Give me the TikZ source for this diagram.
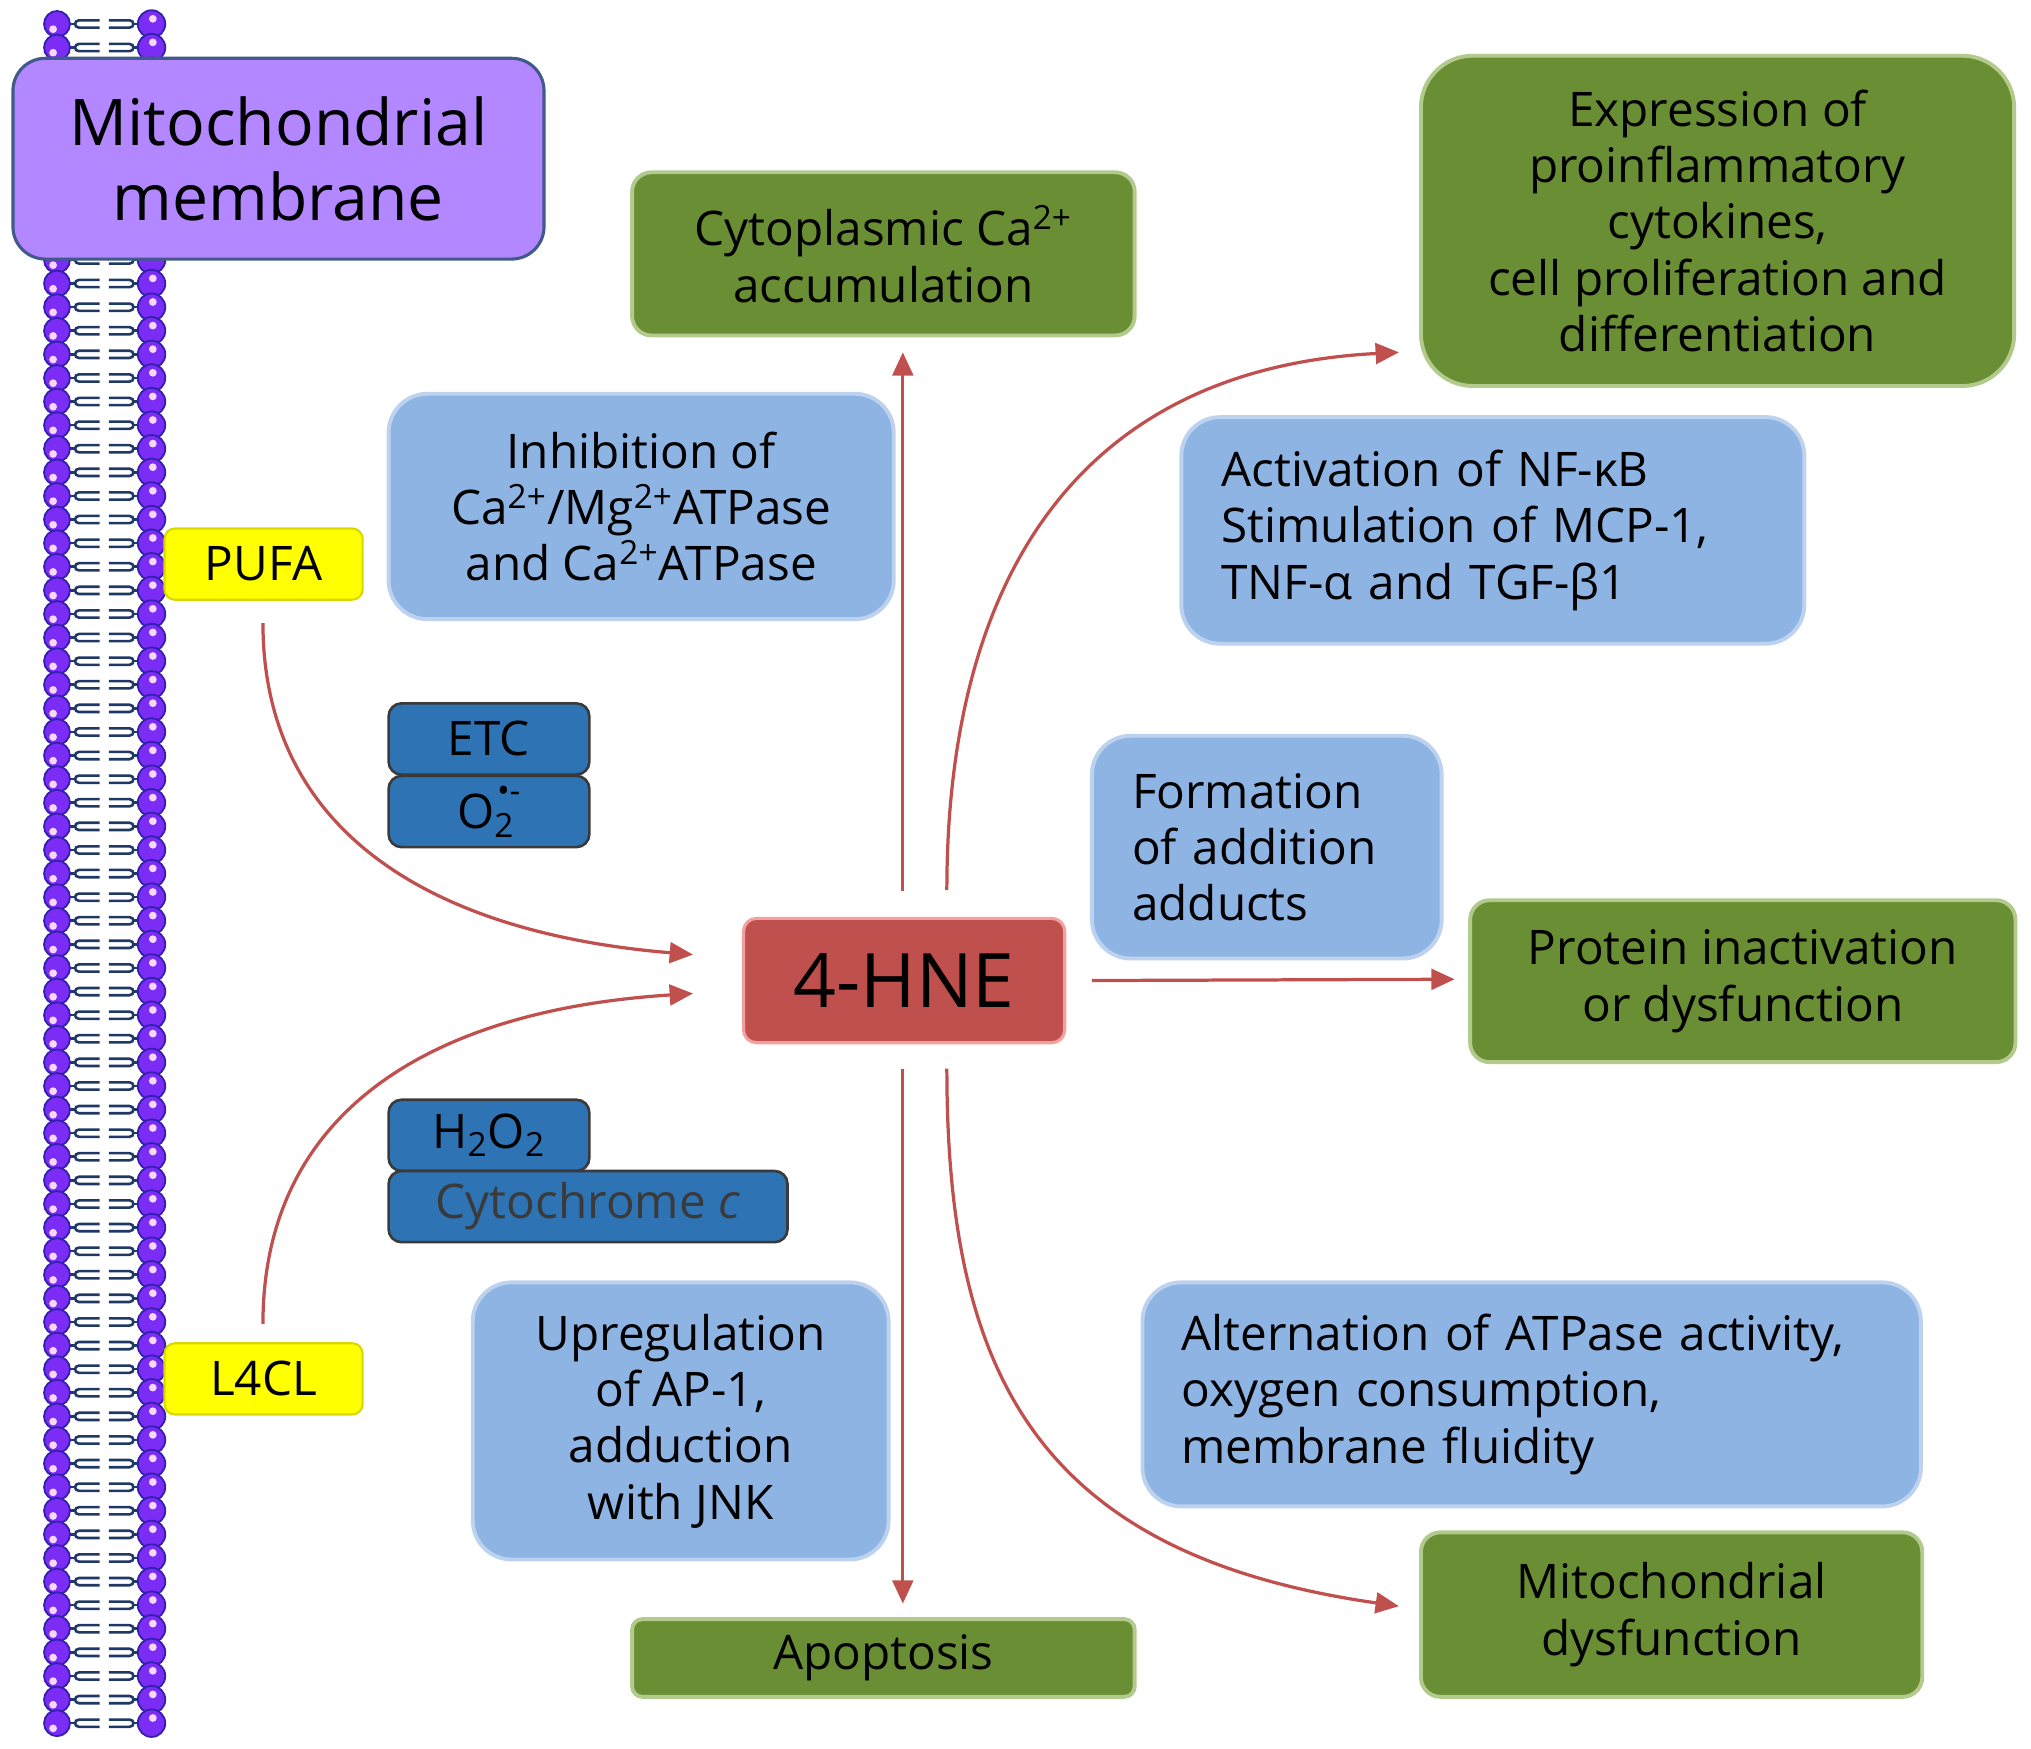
\documentclass[tikz,border=0pt]{standalone}
\usepackage{fontspec}
\setmainfont{Open Sans}
\usetikzlibrary{arrows.meta}
\definecolor{mitofill}{HTML}{B387FF}
\definecolor{mitoedge}{HTML}{41598B}
\definecolor{yel}{HTML}{FFFF00}
\definecolor{yeledge}{HTML}{D8D800}
\definecolor{dblue}{HTML}{2E74B5}
\definecolor{dblueedge}{HTML}{3A3A3A}
\definecolor{lblue}{HTML}{8EB4E3}
\definecolor{lblueedge}{HTML}{BCD2EE}
\definecolor{gr}{HTML}{6A8E34}
\definecolor{gredge}{HTML}{B2CB8C}
\definecolor{hnered}{HTML}{C0504D}
\definecolor{hneedge}{HTML}{F2A0A0}
\definecolor{arrred}{HTML}{C0504D}
\definecolor{lipid}{HTML}{7B2CF5}
\definecolor{lipidedge}{HTML}{3420B0}
\definecolor{lipidhi}{HTML}{F4D8FF}
\definecolor{tailc}{HTML}{203864}
\definecolor{cytgray}{HTML}{3A3A3A}
\tikzset{
  body/.style={font=\fontsize{18.4}{21.75}\selectfont, text=black},
  lbox/.style={body, fill=lblue, draw=lblueedge, line width=1.5pt, rounded corners=15pt, align=center, inner sep=0pt},
  gbox/.style={body, fill=gr, draw=gredge, line width=1.5pt, rounded corners=7.5pt, align=center, inner sep=0pt},
  dbox/.style={body, fill=dblue, draw=dblueedge, line width=1pt, rounded corners=5pt, inner sep=0pt, minimum width=77.5pt, minimum height=27.5pt},
  ybox/.style={body, fill=yel, draw=yeledge, line width=0.8pt, rounded corners=4pt, inner sep=0pt, minimum width=76.5pt, minimum height=27.5pt},
  hnebox/.style={fill=hnered, draw=hneedge, line width=1.2pt, rounded corners=5pt, inner sep=0pt, minimum width=124pt, minimum height=48pt, font=\fontsize{29}{32}\selectfont},
  mitobox/.style={fill=mitofill, draw=mitoedge, line width=1.2pt, rounded corners=12.5pt, inner sep=0pt, minimum width=205pt, minimum height=77.5pt, align=center, font=\fontsize{24.8}{29}\selectfont},
  arr/.style={draw=arrred, line width=1.25pt, -{Triangle[length=9pt,width=8pt]}},
  tail/.style={draw=tailc, line width=1pt},
  head/.style={fill=lipid, draw=lipidedge, line width=0.7pt},
  hilite/.style={fill=lipidhi},
}
\begin{document}
\begin{tikzpicture}[x=0.5pt,y=-0.5pt]
\useasboundingbox (0,0) rectangle (1568,1350);
% membrane
\foreach \i in {0,...,72}{
  \pgfmathsetmacro\yy{18.5+\i*18.22}
  \draw[tail] (53,\yy) -- (59,\yy);
  \draw[tail] (77,\yy-2.8) -- (61,\yy-2.8) .. controls (57,\yy-2.8) and (57,\yy+2.8) .. (61,\yy+2.8) -- (77,\yy+2.8);
  \draw[tail] (84,\yy-2.8) -- (100,\yy-2.8) .. controls (104,\yy-2.8) and (104,\yy+2.8) .. (100,\yy+2.8) -- (84,\yy+2.8);
  \draw[tail] (102,\yy) -- (108,\yy);
}
\foreach \i in {0,...,72}{
  \pgfmathsetmacro\yy{18.5+\i*18.22}
  \filldraw[head] (44,\yy) circle[radius=5pt];
  \filldraw[head] (117,\yy) circle[radius=5.3pt];
  \fill[hilite] (41,\yy+4) circle[radius=1.5pt];
  \fill[hilite] (118,\yy-4) circle[radius=1.5pt];
}
\node[mitobox] (mito) at (215,122.5) {Mitochondrial\\membrane};
% small boxes
\node[ybox] (pufa) at (203.5,435.5) {PUFA};
\node[ybox] (l4cl) at (203.5,1064.5) {L4CL};
\node[dbox] (etc) at (377.5,570.5) {ETC};
\node[dbox] (o2) at (377.5,626.5) {O\rlap{\textsubscript{2}}\kern1pt\raisebox{0.55em}{\fontsize{13}{13}\selectfont •-}};
\node[dbox] (h2o2) at (377.5,876.5) {H\textsubscript{2}O\textsubscript{2}};
\node[dbox, minimum width=154pt, text=cytgray] (cytc) at (454,931.5) {Cytochrome \textit{c}};
% main boxes
\node[lbox, minimum width=195pt, minimum height=87pt] (inhib) at (495,391) {Inhibition of\\Ca\textsuperscript{2+}/Mg\textsuperscript{2+}ATPase\\and Ca\textsuperscript{2+}ATPase};
\node[gbox, minimum width=194pt, minimum height=63pt] (cyto) at (682,196) {Cytoplasmic Ca\textsuperscript{2+}\\accumulation};
\node[hnebox] (hne) at (698,757) {4-HNE};
\node[gbox, rounded corners=20pt, minimum width=229pt, minimum height=127.5pt] (expr) at (1326,170.5) {Expression of\\proinflammatory\\cytokines,\\cell proliferation and\\differentiation};
\node[lbox, align=left, text width=209.5pt, inner xsep=15.5pt, minimum width=240.5pt, minimum height=87.5pt] (activ) at (1152.5,409.5) {Activation of NF-κB\\Stimulation of MCP-1,\\TNF-α and TGF-β1};
\node[lbox, align=left, text width=104pt, inner xsep=15.5pt, minimum width=135pt, minimum height=86pt] (form) at (978,654) {Formation\\of addition\\adducts};
\node[gbox, minimum width=210.5pt, minimum height=62.5pt] (prot) at (1345.5,757.5) {Protein inactivation\\or dysfunction};
\node[lbox, minimum width=160.5pt, minimum height=107pt] (upreg) at (525.5,1097) {Upregulation\\of AP-1,\\adduction\\with JNK};
\node[gbox, rounded corners=4pt, minimum width=194pt, minimum height=30pt] (apop) at (682,1280) {Apoptosis};
\node[lbox, align=left, text width=270.5pt, inner xsep=15pt, minimum width=300.5pt, minimum height=86.5pt] (alter) at (1182.5,1076.5) {Alternation of ATPase activity,\\oxygen consumption,\\membrane fluidity};
\node[gbox, minimum width=193.5pt, minimum height=63.5pt] (mdys) at (1290.5,1246.5) {Mitochondrial\\dysfunction};
% connector end points
\coordinate (pufaout) at (203,481);
\coordinate (l4clout) at (203,1022);
\coordinate (hnein1) at (535,737);
\coordinate (hnein2) at (535,767);
\coordinate (hneup) at (697,688);
\coordinate (hneupr) at (731,687);
\coordinate (hnedn) at (697,825);
\coordinate (hnednr) at (731,825);
\coordinate (hneright) at (843,757);
\coordinate (cytoin) at (697,272);
\coordinate (apopin) at (697,1238);
\coordinate (protin) at (1123,756);
\coordinate (exprin) at (1080,272);
\coordinate (mdysin) at (1080,1240);
% arrows
\draw[arr] (pufaout) .. controls (203,640) and (330,720) .. (hnein1);
\draw[arr] (l4clout) .. controls (203,860) and (330,780) .. (hnein2);
\draw[arr] (hneup) -- (cytoin);
\draw[arr] (hnedn) -- (apopin);
\draw[arr] (hneright) -- (protin);
\draw[arr] (hneupr) .. controls (731,450) and (830,285) .. (exprin);
\draw[arr] (hnednr) .. controls (731,1060) and (800,1200) .. (mdysin);
\end{tikzpicture}
\end{document}
